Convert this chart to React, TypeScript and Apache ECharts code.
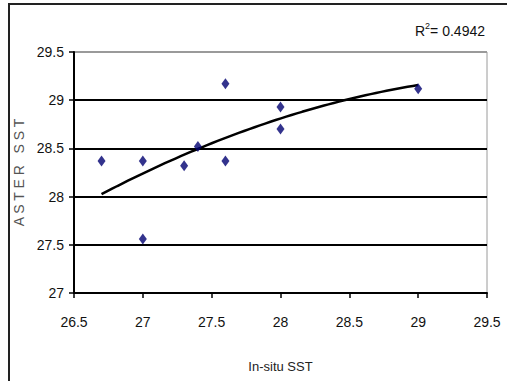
import React, { useEffect, useRef } from "react";
import * as echarts from "echarts";

const inSitu = [26.7, 27.0, 27.0, 27.3, 27.4, 27.6, 27.6, 28.0, 28.0, 29.0];
const aster = [28.37, 28.37, 27.56, 28.32, 28.52, 29.17, 28.37, 28.93, 28.7, 29.12];
const xTicks = [26.5, 27, 27.5, 28, 28.5, 29, 29.5];
const yTicks = [27, 27.5, 28, 28.5, 29, 29.5];
const rSquaredLabel = "0.4942";
const xTitle = "In-situ SST";
const yTitle = "A S T E R   S S T";

// Least-squares quadratic (order-2 polynomial trendline) from the data
function quadFit(xs: number[], ys: number[]) {
  const n = xs.length;
  const mx = xs.reduce((a, b) => a + b, 0) / n;
  let s = [0, 0, 0, 0, 0];
  let t = [0, 0, 0];
  for (let i = 0; i < n; i++) {
    const u = xs[i] - mx;
    for (let k = 0; k < 5; k++) s[k] += Math.pow(u, k);
    for (let k = 0; k < 3; k++) t[k] += ys[i] * Math.pow(u, k);
  }
  const A = [
    [s[0], s[1], s[2], t[0]],
    [s[1], s[2], s[3], t[1]],
    [s[2], s[3], s[4], t[2]],
  ];
  for (let i = 0; i < 3; i++) {
    for (let j = i + 1; j < 3; j++) {
      const f = A[j][i] / A[i][i];
      for (let k = i; k < 4; k++) A[j][k] -= f * A[i][k];
    }
  }
  const c = [0, 0, 0];
  for (let i = 2; i >= 0; i--) {
    let v = A[i][3];
    for (let k = i + 1; k < 3; k++) v -= A[i][k] * c[k];
    c[i] = v / A[i][i];
  }
  return (x: number) => c[0] + c[1] * (x - mx) + c[2] * (x - mx) * (x - mx);
}

export default function App() {
  const ref = useRef<HTMLDivElement>(null);
  useEffect(() => {
    if (!ref.current) return;
    const chart = echarts.init(ref.current, undefined, { renderer: "svg" });
    const f = quadFit(inSitu, aster);
    const xmin = Math.min(...inSitu);
    const xmax = Math.max(...inSitu);
    const trend: number[][] = [];
    const steps = 60;
    for (let i = 0; i <= steps; i++) {
      const x = xmin + ((xmax - xmin) * i) / steps;
      trend.push([x, f(x)]);
    }
    const font = "'Liberation Sans Narrow', 'Liberation Sans', Arial, sans-serif";
    chart.setOption({
      animation: false,
      backgroundColor: "#fff",
      grid: {
        left: 74,
        right: 20,
        top: 52,
        bottom: 88,
        show: true,
        borderColor: "#9a9a9a",
        borderWidth: 1,
      },
      xAxis: {
        type: "value",
        min: xTicks[0],
        max: xTicks[xTicks.length - 1],
        interval: 0.5,
        name: xTitle,
        nameLocation: "middle",
        nameGap: 67,
        nameTextStyle: { color: "#222", fontSize: 13, fontFamily: font },
        axisLine: { onZero: false, lineStyle: { color: "#000", width: 2 } },
        axisTick: { show: true, inside: false, length: 5, lineStyle: { color: "#000", width: 1.5 } },
        axisLabel: {
          color: "#111",
          fontSize: 14,
          fontFamily: font,
          margin: 22,
          formatter: (v: number) => String(v),
        },
        splitLine: { show: false },
      },
      yAxis: {
        type: "value",
        min: yTicks[0],
        max: yTicks[yTicks.length - 1],
        interval: 0.5,
        name: yTitle,
        nameLocation: "middle",
        nameGap: 43,
        nameRotate: 90,
        nameTextStyle: { color: "#555", fontSize: 14, fontFamily: "'Liberation Sans', Arial, sans-serif" },
        axisLine: { onZero: false, lineStyle: { color: "#000", width: 2 } },
        axisTick: { show: true, inside: false, length: 5, lineStyle: { color: "#000", width: 1.5 } },
        axisLabel: {
          color: "#111",
          fontSize: 14,
          fontFamily: font,
          margin: 10,
          formatter: (v: number) => String(v),
        },
        splitLine: {
          show: true,
          lineStyle: { color: ["#000", "#000", "#000", "#000", "#000", "#9a9a9a"], width: 2 },
        },
      },
      series: [
        {
          type: "line",
          data: trend,
          showSymbol: false,
          symbol: "none",
          smooth: false,
          lineStyle: { color: "#000", width: 2.5 },
          z: 2,
        },
        {
          type: "scatter",
          data: inSitu.map((x, i) => [x, aster[i]]),
          symbol: "diamond",
          symbolSize: [8, 11],
          itemStyle: { color: "#000070" },
          z: 3,
        },
      ],
      graphic: [
        {
          type: "rect",
          shape: { x: 9, y: 4, width: 520, height: 400 },
          style: { fill: "none", stroke: "#222", lineWidth: 2 },
          silent: true,
          z: 100,
        },
        {
          type: "text",
          right: 22,
          top: 21,
          style: {
            text: "{r|R}{s|2}{r|= " + rSquaredLabel + "}",
            rich: {
              r: { fontSize: 14, fontFamily: font, fill: "#111", verticalAlign: "bottom" },
              s: { fontSize: 9, fontFamily: font, fill: "#111", padding: [0, 0, 8, 0] },
            },
          },
        },
      ],
    });
    return () => chart.dispose();
  }, []);
  return (
    <div
      ref={ref}
      style={{ position: "fixed", left: 0, top: 0, width: 507, height: 381 }}
    />
  );
}
